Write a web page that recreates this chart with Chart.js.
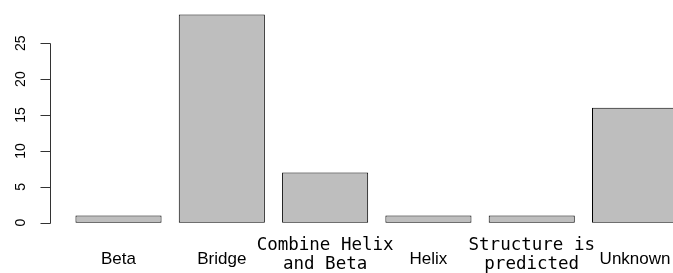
<!DOCTYPE html>
<html>
<head>
<meta charset="utf-8">
<script src="https://cdn.jsdelivr.net/npm/chart.js@4"></script>
<style>
    html, body { margin: 0; padding: 0; background: #fff; overflow: hidden; }
    #canvasContainer { width: 673px; height: 273px; overflow: hidden; }
</style>
</head>
<body>
<div id="canvasContainer"><canvas id="chart" width="700" height="290"></canvas></div>
<script>
const categories = [ 'Beta', 'Bridge', ['Combine Helix', 'and Beta'], 'Helix', ['Structure is', 'predicted'], 'Unknown' ];
const counts = [ 1, 29, 7, 1, 1, 16 ];
const yTicks = [ 0, 5, 10, 15, 20, 25 ];

const sansFont = { family: '"Liberation Sans", Arial, sans-serif', size: 17, lineHeight: '45px' };
const monoFont = { family: '"DejaVu Sans Mono", monospace', size: 17.5, lineHeight: '18.5px' };

// R style left axis, only from 0 to 25 with rotated labels
const leftAxis = {
    id: 'leftAxis',
    afterDatasetsDraw: chart => {
        const ctx = chart.ctx;
        const y = chart.scales.y;
        const x = Math.round(chart.chartArea.left - 16.5) + 0.5;
        ctx.save();
        ctx.strokeStyle = '#333';
        ctx.lineWidth = 1;
        ctx.beginPath();
        ctx.moveTo(x, Math.round(y.getPixelForValue(yTicks[0])) + 0.5);
        ctx.lineTo(x, Math.round(y.getPixelForValue(yTicks[yTicks.length - 1])) + 0.5);
        yTicks.forEach(v => {
            const py = Math.round(y.getPixelForValue(v)) + 0.5;
            ctx.moveTo(x, py);
            ctx.lineTo(x - 10, py);
        });
        ctx.stroke();
        ctx.fillStyle = '#000';
        ctx.font = '14px "Liberation Sans", Arial, sans-serif';
        ctx.textAlign = 'center';
        ctx.textBaseline = 'middle';
        yTicks.forEach(v => {
            ctx.save();
            ctx.translate(x - 29.5, y.getPixelForValue(v));
            ctx.rotate(-Math.PI / 2);
            ctx.fillText(String(v), 0, 0);
            ctx.restore();
        });
        ctx.restore();
    }
};

const chart = new Chart(document.getElementById('chart'), {
    type: 'bar',
    data: {
        labels: categories,
        datasets: [{
            data: counts,
            backgroundColor: '#bebebe',
            borderColor: '#000',
            borderWidth: 1,
            borderSkipped: false,
            barPercentage: 1 / 1.2,
            categoryPercentage: 1
        }]
    },
    options: {
        responsive: false,
        devicePixelRatio: 1,
        animation: false,
        // padding of the x ticks is counted twice by chart.js, bottom is reduced for it
        layout: { padding: { left: 66.85, right: 13.3, top: 6.2, bottom: 3.1 } },
        plugins: { legend: { display: false }, tooltip: { enabled: false } },
        scales: {
            x: {
                offset: true,
                grid: { display: false, drawTicks: false },
                border: { display: false },
                ticks: {
                    color: '#000',
                    padding: 5.45,
                    maxRotation: 0,
                    autoSkip: false,
                    font: c => Array.isArray(categories[c.index]) ? monoFont : sansFont
                }
            },
            y: {
                display: false,
                min: -1.16,
                max: 30.16
            }
        }
    },
    plugins: [ leftAxis ]
});
</script>
</body>
</html>
